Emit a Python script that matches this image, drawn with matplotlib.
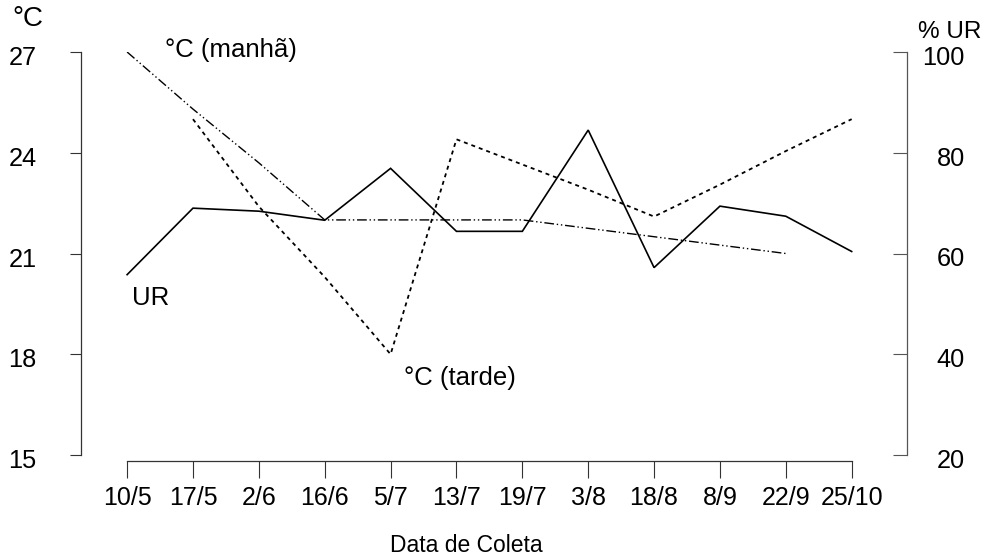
import matplotlib
matplotlib.use("Agg")
import matplotlib.pyplot as plt
from matplotlib.transforms import ScaledTranslation

plt.rcParams['font.family'] = ['Liberation Sans', 'DejaVu Sans']

datas = ["10/5", "17/5", "2/6", "16/6", "5/7", "13/7", "19/7", "3/8", "18/8", "8/9", "22/9", "25/10"]
temp_manha = [27.0, 25.3, 23.7, 22.0, 22.0, 22.0, 22.0, 21.75, 21.5, 21.25, 21.0, None]
temp_tarde = [None, 25.0, 22.4, 20.3, 18.0, 24.4, 23.65, 22.9, 22.1, 23.05, 24.05, 25.0]
ur = [55.8, 69.0, 68.4, 66.6, 76.9, 64.4, 64.4, 84.5, 57.2, 69.4, 67.4, 60.4]
left_ticks = [15, 18, 21, 24, 27]
right_ticks = [20, 40, 60, 80, 100]

x = list(range(len(datas)))

def clean(xs, ys):
    pts = [(a, b) for a, b in zip(xs, ys) if b is not None]
    return [p[0] for p in pts], [p[1] for p in pts]

fig = plt.figure(figsize=(9.9, 5.59), dpi=100)
ax = fig.add_axes([81/990, 1-455/559, (907-81)/990, (455-52)/559])
ax2 = ax.twinx()

xm, ym = clean(x, temp_manha)
ax.plot(xm, ym, color='black', lw=1.0, linestyle=(0, (7, 2, 1, 2, 1, 2)))
xt, yt = clean(x, temp_tarde)
ax.plot(xt, yt, color='black', lw=1.3, linestyle=(0, (2.2, 2.2)))
ax2.plot(x, ur, color='black', lw=1.2, solid_joinstyle='miter')

ax.set_xlim(-0.70, 11.84)
ax.set_ylim(15, 27)
ax2.set_ylim(20, 100)

ax.set_yticks(left_ticks)
ax.set_yticklabels([str(v) for v in left_ticks])
ax2.set_yticks(right_ticks)
ax2.set_yticklabels([str(v) for v in right_ticks], ha='right')
ax.set_xticks(x)
ax.set_xticklabels(datas)

for s in ['top', 'right']:
    ax.spines[s].set_visible(False)
for s in ['top', 'left', 'bottom']:
    ax2.spines[s].set_visible(False)
ax.spines['bottom'].set_position(('outward', 4.3))
ax.spines['bottom'].set_bounds(0, 11)

spine_color = '#333333'
for sp in ax.spines.values():
    sp.set_color(spine_color)
    sp.set_linewidth(0.9)
ax2.spines['right'].set_color('#555555')
ax2.spines['right'].set_linewidth(0.9)

ax.tick_params(axis='y', direction='out', length=8, width=0.8, color=spine_color,
               labelsize=18.3, pad=24)
ax.tick_params(axis='x', direction='out', length=12, width=0.8, color=spine_color,
               labelsize=18, pad=6)
ax2.tick_params(axis='y', direction='in', length=10, width=0.8, color='#555555',
                labelsize=18.3, pad=41.5)

shift = ScaledTranslation(0, -0.035, fig.dpi_scale_trans)
for lbl in ax.get_yticklabels() + ax2.get_yticklabels():
    lbl.set_transform(lbl.get_transform() + shift)

ax.set_xlabel("Data de Coleta", fontsize=16.5)
ax.xaxis.set_label_coords((466-81)/(907-81), -79/403, transform=ax.transAxes)

fig.text(12/990, 1-19/559, "°C", fontsize=20, ha='left', va='center')
fig.text(918/990, 1-32/559, "% UR", fontsize=17.5, ha='left', va='center')

ax.text(1.58, 27.06, "°C (manhã)", fontsize=18.5, ha='center', va='center')
ax.text(5.05, 17.29, "°C (tarde)", fontsize=18.5, ha='center', va='center')
ax.text(0.36, 19.67, "UR", fontsize=18.5, ha='center', va='center')

fig.savefig("out.png", dpi=100)
